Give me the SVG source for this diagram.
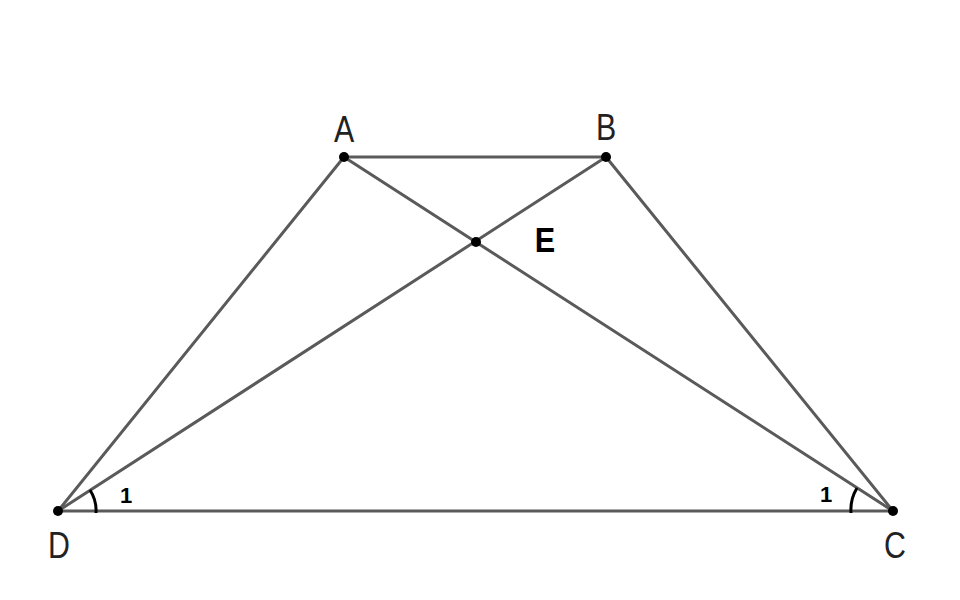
<svg xmlns="http://www.w3.org/2000/svg" width="960" height="600" viewBox="0 0 960 600">
<style>
.seg{stroke:#5a5a5a;stroke-width:3;fill:none;stroke-linecap:round}
.arc{stroke:#000;stroke-width:3;fill:none}
.pt{fill:#000}
.lbl{font-family:"Liberation Sans",Arial,sans-serif;font-size:37px;fill:#222}
.bold{font-family:"Liberation Sans",Arial,sans-serif;font-weight:bold;fill:#000}
</style>
<rect width="960" height="600" fill="#fff"/>
<g id="connectors">
<line class="seg" x1="344" y1="157" x2="606" y2="157"/>
<line class="seg" x1="344" y1="157" x2="58" y2="511"/>
<line class="seg" x1="606" y1="157" x2="893" y2="511"/>
<line class="seg" x1="58" y1="511" x2="893" y2="511"/>
<line class="seg" x1="344" y1="157" x2="893" y2="511"/>
<line class="seg" x1="606" y1="157" x2="58" y2="511"/>
<path class="arc" d="M96,513 A38,38 0 0 0 90,490"/>
<path class="arc" d="M851,513 A42,42 0 0 1 857,488"/>
</g>
<g id="A"><circle class="pt" cx="344" cy="157" r="5"/><text class="lbl" transform="translate(344,142) scale(0.82,1)" text-anchor="middle">A</text></g>
<g id="B"><circle class="pt" cx="606" cy="157" r="5"/><text class="lbl" transform="translate(606,140) scale(0.82,1)" text-anchor="middle">B</text></g>
<g id="D"><circle class="pt" cx="58" cy="511" r="5"/><text class="lbl" transform="translate(59,558) scale(0.82,1)" text-anchor="middle">D</text><text class="bold" x="126" y="503" font-size="22" text-anchor="middle">1</text></g>
<g id="C"><circle class="pt" cx="893" cy="511" r="5"/><text class="lbl" transform="translate(895,558) scale(0.82,1)" text-anchor="middle">C</text><text class="bold" x="826" y="502" font-size="22" text-anchor="middle">1</text></g>
<g id="E"><circle class="pt" cx="476" cy="242" r="5"/><text class="bold" transform="translate(545,252) scale(0.85,1)" font-size="36" text-anchor="middle">E</text></g>
</svg>
